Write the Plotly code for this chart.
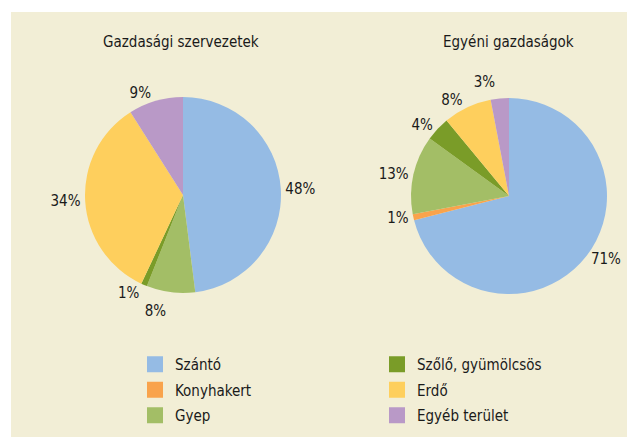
import plotly.graph_objects as go

categories = ["Szántó", "Konyhakert", "Gyep", "Szőlő, gyümölcsös", "Erdő", "Egyéb terület"]
colors = ["#95BBE4", "#F9A34C", "#A3BE66", "#7A9C28", "#FECF5D", "#B999C7"]
gazd_szerv = [48, 0, 8, 1, 34, 9]
egyeni_gazd = [71, 1, 13, 4, 8, 3]
titles = ["Gazdasági szervezetek", "Egyéni gazdaságok"]

FONT = "Liberation Sans Narrow, DejaVu Sans Condensed, Arial Narrow, sans-serif"
FS = 15
W, H = 627, 437

def px_x(x):
    return x / W

def px_y(y):
    return 1 - y / H

fig = go.Figure()

pie_boxes = [(85, 281, 97, 293), (411, 607, 98, 294)]
for vals, (x0, x1, y0, y1) in zip([gazd_szerv, egyeni_gazd], pie_boxes):
    fig.add_trace(go.Pie(
        labels=categories, values=vals, sort=False, direction="clockwise", rotation=0,
        marker=dict(colors=colors, line=dict(width=0)),
        texttemplate=["%{percent}" if v > 0 else "" for v in vals],
        textposition="outside",
        textfont=dict(family=FONT, size=FS, color="#1a1a1a"),
        domain=dict(x=[px_x(x0), px_x(x1)], y=[px_y(y1), px_y(y0)]),
        showlegend=False, hoverinfo="label+percent",
    ))

# legend entries (two columns)
for i, (cat, col) in enumerate(zip(categories, colors)):
    fig.add_trace(go.Scatter(
        x=[None], y=[None], mode="markers", name=cat, legendgroup=cat,
        marker=dict(symbol="square", size=16, color=col),
        legend="legend" if i < 3 else "legend2", showlegend=True,
    ))

legend_common = dict(font=dict(family=FONT, size=FS, color="#1a1a1a"),
                     bgcolor="rgba(0,0,0,0)", orientation="v",
                     xanchor="left", yanchor="top", traceorder="grouped",
                     tracegroupgap=3, itemclick=False, itemdoubleclick=False)

annotations = []
for t, cx in zip(titles, [181, 508]):
    annotations.append(dict(text=t, x=px_x(cx), y=px_y(42), xref="paper", yref="paper",
                            showarrow=False, xanchor="center", yanchor="middle",
                            font=dict(family=FONT, size=FS, color="#1a1a1a")))

fig.update_layout(
    width=W, height=H,
    margin=dict(l=0, r=0, t=0, b=0),
    paper_bgcolor="white", plot_bgcolor="rgba(0,0,0,0)",
    xaxis=dict(visible=False), yaxis=dict(visible=False),
    shapes=[dict(type="rect", xref="paper", yref="paper", x0=px_x(11), x1=1.0,
                 y0=0, y1=px_y(12), fillcolor="#F2EED6", line=dict(width=0), layer="below")],
    annotations=annotations,
    legend=dict(x=px_x(135), y=px_y(348), **legend_common),
    legend2=dict(x=px_x(377), y=px_y(348), **legend_common),
)

post = """
document.body.style.margin = '0';
var st = document.createElement('style');
st.textContent = 'path.textline{display:none !important;}';
document.head.appendChild(st);
"""
fig.write_html("out.html", post_script=post, config={"displayModeBar": False})
